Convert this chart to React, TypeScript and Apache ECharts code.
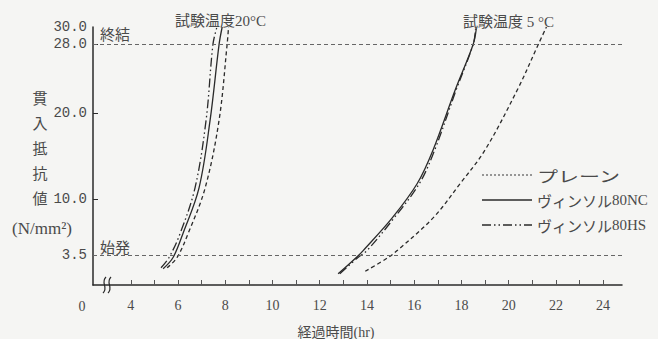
import React, { useEffect, useRef } from "react";
import * as echarts from "echarts";

// Test 20°C
const hs20: number[][] = [[5.28, 2.0], [5.62, 3.2], [6.09, 6.0], [6.72, 11.3], [7.19, 19.2], [7.48, 28], [7.65, 30]];
const nc20: number[][] = [[5.37, 1.9], [5.79, 3.2], [6.21, 6.0], [6.89, 11.3], [7.36, 19.2], [7.74, 28], [7.87, 30]];
const plain20: number[][] = [[5.54, 2.0], [5.96, 3.2], [6.43, 6.0], [7.15, 11.3], [7.74, 19.2], [8.08, 28], [8.14, 30]];
// Test 5°C
const nc5: number[][] = [[12.78, 1.3], [13.55, 3.2], [13.84, 4.0], [15.07, 7.8], [16.13, 11.8], [16.8, 15.7], [17.74, 22.7], [18.5, 28], [18.63, 29.8]];
const hs5: number[][] = [[12.85, 1.3], [13.62, 3.2], [14.0, 4.0], [15.15, 7.8], [16.22, 11.8], [16.87, 15.7], [17.78, 22.7], [18.5, 28], [18.6, 29.8]];
const plain5: number[][] = [[13.93, 1.6], [14.9, 3.2], [15.28, 4.0], [16.8, 7.8], [17.95, 11.8], [19.0, 15.7], [20.37, 22.7], [21.26, 28], [21.6, 30]];

const xLabels = [4, 6, 8, 10, 12, 14, 16, 18, 20, 22, 24];
const xTicks = [4, 5, 6, 7, 8, 9, 10, 11, 12, 13, 14, 15, 16, 17, 18, 19, 20, 21, 22, 23, 24];
const yLabels = [3.5, 10, 20, 28, 30];
const yTicks = [10, 20, 28];
const refLines = [28, 3.5];

const legendKana = ["プレーン", "ヴィンソル", "ヴィンソル"];
const legendCode = ["", "80NC", "80HS"];
const legendNames = legendKana.map((k, i) => k + legendCode[i]);

const INK = "#2a2a2a";
const TXT = "#4a4a4a";
const SERIF = "'Liberation Serif', 'Noto Sans CJK JP', serif";
const JP = "'Noto Sans CJK JP', sans-serif";

const HS_DASH = [9, 3, 1.5, 3, 1.5, 3];
const PLAIN_DASH = [4, 3];

export default function App() {
  const ref = useRef<HTMLDivElement>(null);
  useEffect(() => {
    if (!ref.current) return;
    const chart = echarts.init(ref.current, undefined, { renderer: "svg" });
    const mk = (name: string, data: number[][], type: any, extra: any = {}) => ({
      name,
      type: "line",
      data,
      smooth: 0.35,
      showSymbol: false,
      clip: false,
      lineStyle: { color: INK, width: 1.3, type },
      ...extra,
    });
    const legendY = [175, 200, 225];
    const legendTypes: any[] = [[2, 2], "solid", HS_DASH];
    const graphic: any[] = [];
    legendNames.forEach((n, i) => {
      graphic.push({
        type: "line",
        shape: { x1: 482, y1: legendY[i], x2: 532, y2: legendY[i] },
        style: { stroke: i === 0 ? "#777" : INK, lineWidth: 1.3, lineDash: legendTypes[i] === "solid" ? null : legendTypes[i] },
      });
      graphic.push({
        type: "text",
        x: 537,
        y: legendY[i],
        style: {
          text: `{k|${legendKana[i]}}` + (legendCode[i] ? `{a|${legendCode[i]}}` : ""),
          fill: TXT,
          verticalAlign: "middle",
          rich: {
            k: { fontFamily: JP, fontSize: 15, fill: TXT },
            a: { fontFamily: SERIF, fontSize: 15, fill: TXT },
          },
        },
        scaleX: i === 0 ? 1.4 : 1.0,
        originX: 0,
        originY: 0,
      });
    });
    graphic.push(
      { type: "text", x: 100, y: 33, style: { text: "終結", font: `15px ${JP}`, fill: TXT, verticalAlign: "middle" } },
      { type: "text", x: 100, y: 246, style: { text: "始発", font: `15px ${JP}`, fill: TXT, verticalAlign: "middle" } },
      { type: "text", x: 175, y: 21, style: { text: "試験温度20°C", font: `15px ${SERIF}`, fill: TXT, verticalAlign: "middle" } },
      { type: "text", x: 463, y: 22, style: { text: "試験温度 5 °C", font: `15px ${SERIF}`, fill: TXT, verticalAlign: "middle" } },
      { type: "text", x: 40, y: 85, style: { text: "貫\n入\n抵\n抗\n値", font: `15px ${JP}`, lineHeight: 25, fill: TXT, align: "center", verticalAlign: "top" } },
      { type: "text", x: 42, y: 228, style: { text: "(N/mm²)", font: `17px ${SERIF}`, fill: TXT, align: "center", verticalAlign: "middle" } },
      { type: "text", x: 82, y: 306, style: { text: "0", font: `14px ${SERIF}`, fill: TXT, align: "center", verticalAlign: "middle" } },
      { type: "text", x: 336, y: 332, style: { text: "経過時間(hr)", font: `14px ${SERIF}`, fill: TXT, align: "center", verticalAlign: "middle" } },
      { type: "rect", shape: { x: 104, y: 282, width: 6, height: 6 }, style: { fill: "#f5f5f3" } },
      { type: "bezierCurve", shape: { x1: 106, y1: 277, x2: 103, y2: 293, cpx1: 100, cpy1: 283, cpx2: 109, cpy2: 287 }, style: { stroke: INK, lineWidth: 1.2, fill: null } },
      { type: "bezierCurve", shape: { x1: 111, y1: 277, x2: 108, y2: 293, cpx1: 105, cpy1: 283, cpx2: 114, cpy2: 287 }, style: { stroke: INK, lineWidth: 1.2, fill: null } }
    );

    chart.setOption({
      animation: false,
      backgroundColor: "#f5f5f3",
      grid: { left: 93, right: 36, top: 27, bottom: 54, containLabel: false, outerBoundsMode: "none" },
      xAxis: {
        type: "value",
        min: 2.4,
        max: 24.8,
        axisLine: { show: true, lineStyle: { color: INK, width: 1.5 } },
        axisTick: { show: true, inside: true, length: 5, customValues: xTicks, lineStyle: { color: "#555" } },
        axisLabel: { customValues: xLabels, margin: 13, fontSize: 14, fontFamily: SERIF, color: TXT },
        splitLine: { show: false },
      },
      yAxis: {
        type: "value",
        min: 0,
        max: 30,
        axisLine: { show: true, lineStyle: { color: INK, width: 1.5 } },
        axisTick: { show: true, inside: true, length: 5, customValues: yTicks, lineStyle: { color: INK } },
        axisLabel: {
          customValues: yLabels,
          margin: 6,
          fontSize: 14,
          fontFamily: "'Liberation Mono', monospace",
          color: TXT,
          formatter: (v: number) => v.toFixed(1),
        },
        splitLine: { show: false },
      },
      series: [
        mk(legendNames[2] + " 20", hs20, HS_DASH, {
          markLine: {
            silent: true,
            symbol: "none",
            label: { show: false },
            lineStyle: { color: "#666", type: [4, 3], width: 1 },
            data: refLines.map((v) => ({ yAxis: v })),
          },
        }),
        mk(legendNames[1] + " 20", nc20, "solid"),
        mk(legendNames[0] + " 20", plain20, PLAIN_DASH),
        mk(legendNames[1] + " 5", nc5, "solid"),
        mk(legendNames[2] + " 5", hs5, HS_DASH),
        mk(legendNames[0] + " 5", plain5, PLAIN_DASH),
      ],
      graphic,
    });
    return () => chart.dispose();
  }, []);
  return <div ref={ref} style={{ width: 658, height: 339, position: "absolute", left: 0, top: 0 }} />;
}
